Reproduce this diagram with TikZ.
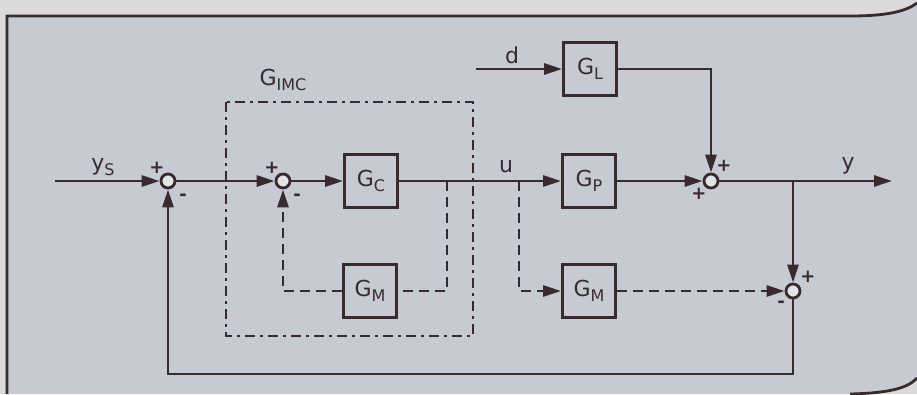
\documentclass[tikz,border=0pt]{standalone}
\usepackage{fontspec}
\setmainfont{DejaVu Sans}
\usetikzlibrary{arrows.meta, positioning, calc}
\definecolor{paper}{HTML}{C6CAD3}
\definecolor{scan}{HTML}{DADADC}
\definecolor{ink}{HTML}{3A2A2E}
\definecolor{hole}{HTML}{E2E4E8}
\newcommand{\lowidx}[1]{\raisebox{-0.45ex}{\fontsize{16}{16}\selectfont #1}}

\begin{document}
\begin{tikzpicture}[x=1pt,y=-1pt,line join=miter,
  every node/.style={font=\fontsize{22}{24}\selectfont,text=ink},
  wire/.style={line width=2.8pt,draw=ink},
  model/.style={wire,dash pattern=on 10pt off 6pt},
  imcbox/.style={wire,dash pattern=on 10pt off 5pt on 3pt off 5pt},
  block/.style={wire,fill=paper,minimum width=53pt,minimum height=53pt,inner sep=0pt},
  sumjn/.style={wire,circle,fill=hole,minimum size=14pt,inner sep=0pt},
  sign/.style={font=\fontsize{18}{18}\selectfont\bfseries,inner sep=0pt},
  >={Triangle[length=18pt,width=11pt]}]
  \useasboundingbox (0,0) rectangle (917,394);
  % ---- scanned page ------------------------------------------------------
  \fill[scan] (0,0) rectangle (917,394);
  \fill[paper] (7,394) -- (7,16) -- (850,16) .. controls (885,16) and (905,12) .. (917,3)
    -- (917,378) .. controls (908,388) and (890,393) .. (850,394) -- cycle;
  \draw[wire] (7,394) -- (7,16) -- (850,16) .. controls (885,16) and (905,12) .. (917,3);
  \draw[wire] (850,394) .. controls (890,393) and (908,388) .. (917,378);
  % ---- blocks ------------------------------------------------------------
  \node[block] (gc) at (371,181) {G\lowidx{C}};
  \node[block] (gmi) at (370,291) {G\lowidx{M}};
  \node[block] (gl) at (590,69) {G\lowidx{L}};
  \node[block] (gp) at (589,181) {G\lowidx{P}};
  \node[block] (gmo) at (589,291) {G\lowidx{M}};
  % ---- summing junctions -------------------------------------------------
  \node[sumjn] (s1) at (168,181) {};
  \node[sumjn] (s2) at (283,181) {};
  \node[sumjn] (s3) at (711,181) {};
  \node[sumjn] (s4) at (793,291) {};
  \node[sign] (s1p) at (157,168) {+};
  \node[sign] (s1m) at (183,197) {-};
  \node[sign] (s2p) at (272,168) {+};
  \node[sign] (s2m) at (297,197) {-};
  \node[sign] (s3p) at (724,166) {+};
  \node[sign] (s3q) at (699,194) {+};
  \node[sign] (s4p) at (808,277) {+};
  \node[sign] (s4m) at (781,304) {-};
  % ---- free ends and branch points ---------------------------------------
  \coordinate (ysin) at (55,181);
  \coordinate (din) at (476,69);
  \coordinate (yout) at (892,181);
  \coordinate (ubr) at (519,181);
  \coordinate (mbr) at (447,181);
  \coordinate (obr) at (793,181);
  \coordinate (fbk) at (793,374);
  % ---- signals -----------------------------------------------------------
  \draw[wire,->] (ysin) -- (s1);
  \draw[wire,->] (s1) -- (s2);
  \draw[wire,->] (s2) -- (gc);
  \draw[wire,->] (gc) -- (gp);
  \draw[wire,->] (din) -- (gl);
  \draw[wire,->] (gl) -| (s3);
  \draw[wire,->] (gp) -- (s3);
  \draw[wire,->] (s3) -- (yout);
  \draw[wire,->] (obr) -- (s4);
  \draw[wire,->] (s4) -- (fbk) -| (s1);
  % ---- model paths (dashed) ----------------------------------------------
  \draw[model] (mbr) |- (gmi);
  \draw[model,->] (gmi) -| (s2);
  \draw[model,->] (ubr) |- (gmo);
  \draw[model,->] (gmo) -- (s4);
  % ---- IMC controller ----------------------------------------------------
  \draw[imcbox] (226,102) rectangle (473,336);
  \node (imcl) at (283,80) {G\lowidx{IMC}};
  % ---- labels ------------------------------------------------------------
  \node (ysl) at (103,167) {y\lowidx{S}};
  \node (dl) at (512,55) {d};
  \node (ul) at (506,166) {u};
  \node (yl) at (848,166) {y};
\end{tikzpicture}
\end{document}
